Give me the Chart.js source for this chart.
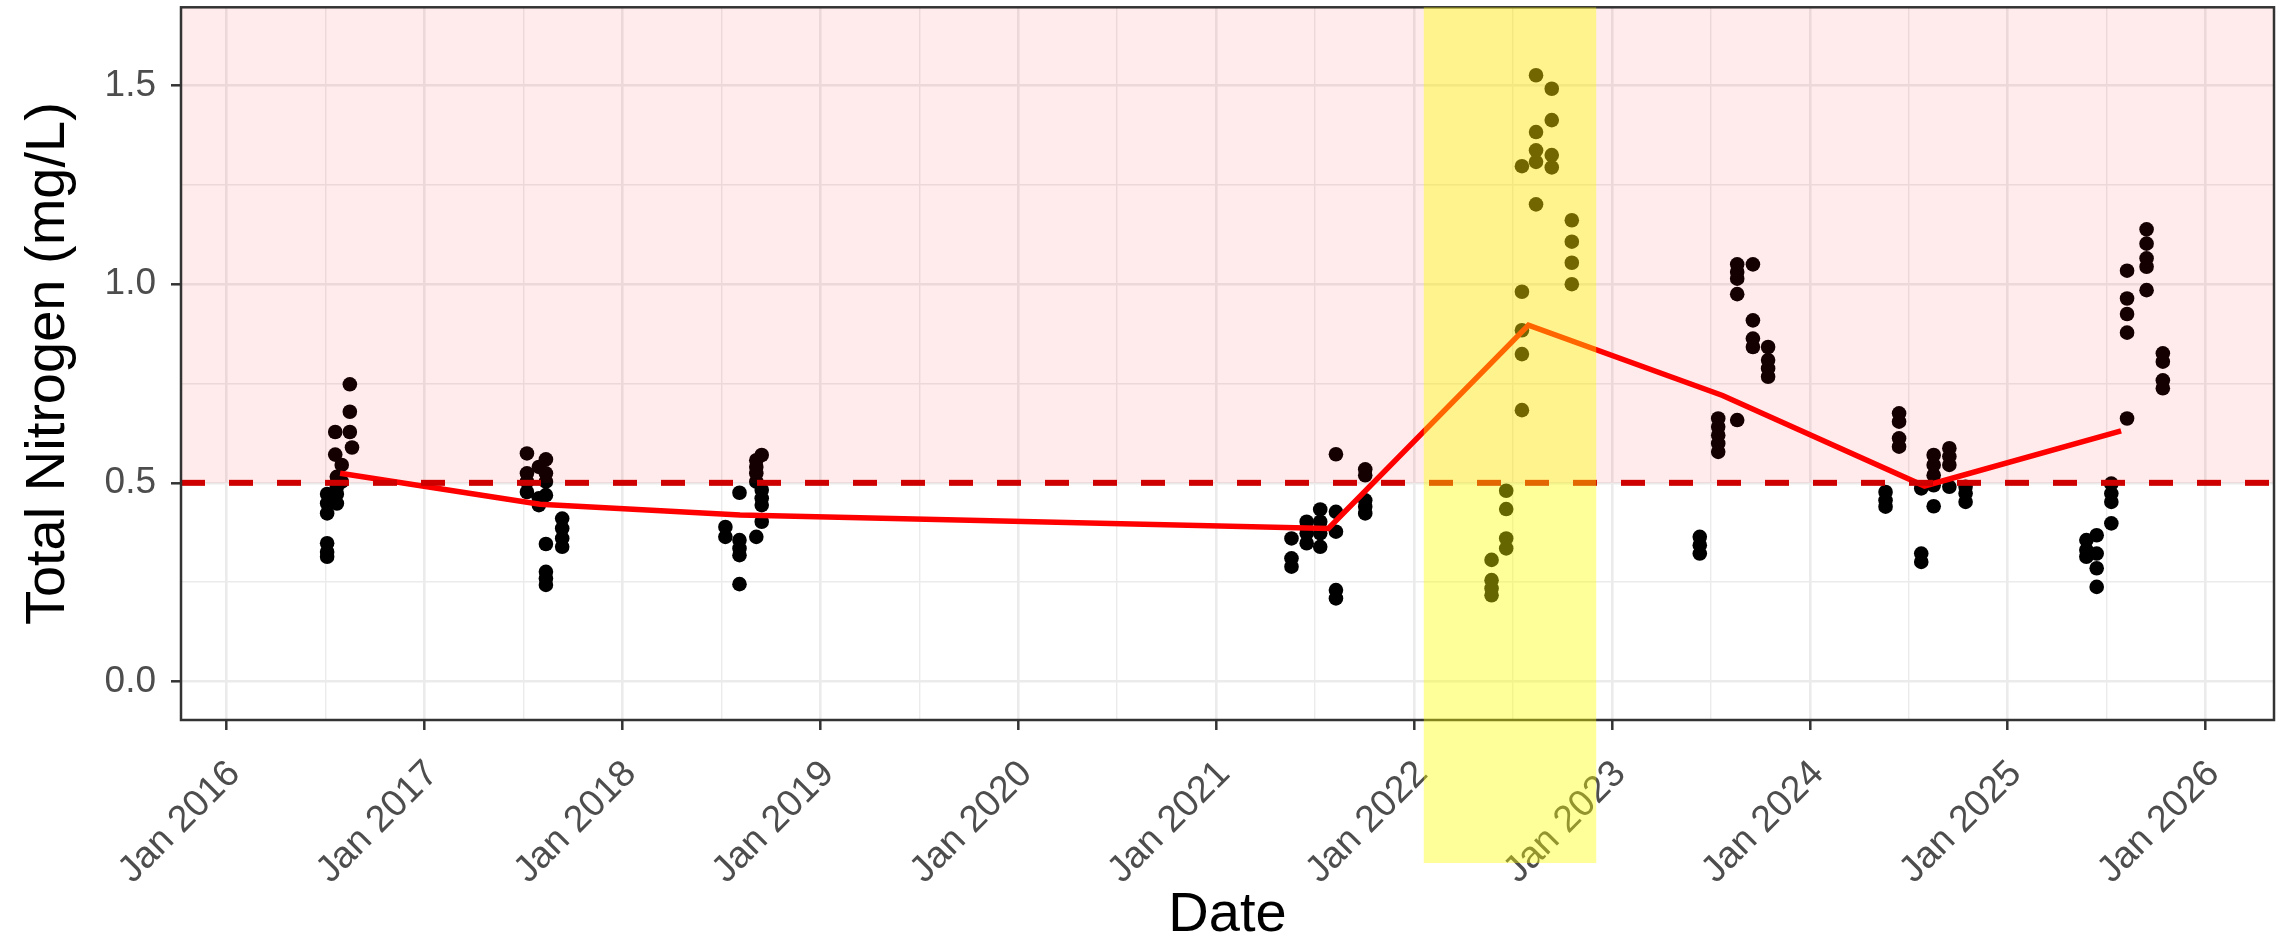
<!DOCTYPE html>
<html>
<head>
<meta charset="utf-8">
<script src="https://cdn.jsdelivr.net/npm/chart.js@4.4.1/dist/chart.umd.min.js"></script>
<style>
  html, body { margin: 0; padding: 0; background: #ffffff; }
  #wrap { width: 2285px; height: 941px; position: relative; }
</style>
</head>
<body>
<div id="wrap"><canvas id="c" width="2285" height="941"></canvas></div>
<script>
// ---------------- data ----------------
const sampleDays = [
  '2016-07-05','2016-07-20','2016-07-23','2016-08-01','2016-08-16','2016-08-20',
  '2017-07-09','2017-07-31','2017-08-13','2017-09-12',
  '2018-07-10','2018-08-05','2018-09-05','2018-09-15',
  '2021-05-20','2021-06-17','2021-07-12','2021-08-10','2021-10-03',
  '2022-05-24','2022-06-20','2022-07-19','2022-08-14','2022-09-12','2022-10-19',
  '2023-06-12','2023-07-16','2023-08-20','2023-09-18','2023-10-16',
  '2024-05-20','2024-06-14','2024-07-25','2024-08-17','2024-09-15','2024-10-15',
  '2025-05-26','2025-06-14','2025-07-11','2025-08-09','2025-09-14','2025-10-14'
];
const tnBySampleDay = [
  [0.472, 0.448, 0.423, 0.348, 0.326, 0.314],
  [0.628, 0.571],
  [0.515, 0.490, 0.472, 0.448],
  [0.545, 0.503],
  [0.748, 0.679, 0.628],
  [0.589],
  [0.574, 0.524, 0.503, 0.477],
  [0.540, 0.461, 0.444],
  [0.559, 0.524, 0.503, 0.469, 0.346, 0.276, 0.259, 0.243],
  [0.410, 0.385, 0.360, 0.339],
  [0.389, 0.364],
  [0.475, 0.356, 0.335, 0.318, 0.245],
  [0.557, 0.540, 0.524, 0.503, 0.364],
  [0.570, 0.482, 0.461, 0.444, 0.402],
  [0.360, 0.310, 0.289],
  [0.402, 0.373, 0.348],
  [0.433, 0.402, 0.373, 0.339],
  [0.572, 0.427, 0.377, 0.230, 0.209],
  [0.534, 0.519, 0.456, 0.440, 0.423],
  [0.306, 0.255, 0.234, 0.217],
  [0.480, 0.434, 0.360, 0.335],
  [1.297, 0.981, 0.884, 0.824, 0.683],
  [1.526, 1.383, 1.337, 1.308, 1.201],
  [1.492, 1.413, 1.325, 1.294],
  [1.161, 1.107, 1.054, 1.000],
  [0.364, 0.343, 0.322],
  [0.662, 0.641, 0.620, 0.599, 0.578],
  [1.050, 1.031, 1.014, 0.975, 0.658],
  [1.050, 0.909, 0.863, 0.842],
  [0.842, 0.809, 0.788, 0.767],
  [0.477, 0.456, 0.440],
  [0.675, 0.654, 0.612, 0.591],
  [0.486, 0.322, 0.301],
  [0.570, 0.545, 0.519, 0.494, 0.441],
  [0.587, 0.566, 0.545, 0.490],
  [0.490, 0.473, 0.452],
  [0.356, 0.331, 0.314],
  [0.368, 0.322, 0.285, 0.238],
  [0.498, 0.473, 0.452, 0.398],
  [1.034, 0.964, 0.925, 0.878, 0.662],
  [1.138, 1.102, 1.065, 1.044, 0.985],
  [0.826, 0.805, 0.758, 0.738]
];
const annualDates = ['2016-07-29','2017-08-02','2018-08-06','2021-07-27','2022-07-31','2023-07-24','2024-07-31','2025-07-29'];
const annualTN    = [0.524, 0.446, 0.419, 0.385, 0.897, 0.720, 0.492, 0.631];
const threshold = 0.5;
const highlightPeriod = ['2022-01-19', '2022-12-03'];
const xRange = ['2015-10-09', '2026-05-07'];
const yRange = [-0.097, 1.697];
const xTickYears = [2016, 2017, 2018, 2019, 2020, 2021, 2022, 2023, 2024, 2025, 2026];
const yTickValues = [0, 0.25, 0.5, 0.75, 1.0, 1.25, 1.5];
const xTitle = 'Date';
const yTitle = 'Total Nitrogen (mg/L)';

// ---------------- helpers ----------------
function toYear(s) {
  const [y, m, d] = s.split('-').map(Number);
  const start = Date.UTC(y, 0, 1), end = Date.UTC(y + 1, 0, 1);
  return y + (Date.UTC(y, m - 1, d) - start) / (end - start);
}
const xMin = toYear(xRange[0]), xMax = toYear(xRange[1]);
const xTickValues = [];
xTickYears.forEach(yr => {
  if (yr >= xMin && yr <= xMax) xTickValues.push(yr);
  if (yr + 0.5 >= xMin && yr + 0.5 <= xMax) xTickValues.push(yr + 0.5);
});

const pointData = [];
sampleDays.forEach((d, i) => tnBySampleDay[i].forEach(v => pointData.push({ x: toYear(d), y: v })));
const meanData = annualDates.map((d, i) => ({ x: toYear(d), y: annualTN[i] }));

const isMajorX = v => Math.abs(v - Math.round(v)) < 1e-9;
const isMajorY = v => Math.abs(v * 2 - Math.round(v * 2)) < 1e-9;
const FONT = "'Liberation Sans', Arial, 'DejaVu Sans', sans-serif";

const overlayPlugin = {
  id: 'overlays',
  afterDatasetsDraw(chart) {
    const { ctx, chartArea: a, scales: { x, y } } = chart;
    ctx.save();
    // exceedance region (above threshold)
    const yT = y.getPixelForValue(threshold);
    ctx.fillStyle = 'rgba(255,0,0,0.08)';
    ctx.fillRect(a.left, a.top, a.right - a.left, yT - a.top);
    // panel border
    ctx.strokeStyle = '#333333';
    ctx.lineWidth = 2.5;
    ctx.strokeRect(a.left, a.top, a.right - a.left, a.bottom - a.top);
    // highlighted period
    const x0 = x.getPixelForValue(toYear(highlightPeriod[0]));
    const x1 = x.getPixelForValue(toYear(highlightPeriod[1]));
    ctx.fillStyle = 'rgba(255,255,0,0.4)';
    ctx.fillRect(x0, a.top, x1 - x0, (a.bottom + 143) - a.top);
    ctx.restore();
  }
};

new Chart(document.getElementById('c'), {
  type: 'scatter',
  data: {
    datasets: [
      {
        data: [{ x: xMin, y: threshold }, { x: xMax, y: threshold }],
        showLine: true, borderColor: '#CD0000', borderWidth: 6, borderDash: [24, 24],
        pointRadius: 0, fill: false, order: 0
      },
      {
        data: meanData,
        showLine: true, borderColor: '#FF0000', borderWidth: 5.5,
        pointRadius: 0, fill: false, tension: 0, order: 1
      },
      {
        data: pointData,
        backgroundColor: '#000000', borderWidth: 0, pointRadius: 7.3, order: 2
      }
    ]
  },
  options: {
    responsive: false,
    animation: false,
    devicePixelRatio: 1,
    layout: { padding: { left: 0, top: 7, right: 11, bottom: 0 } },
    plugins: { legend: { display: false }, tooltip: { enabled: false } },
    scales: {
      x: {
        type: 'linear',
        min: xMin, max: xMax,
        afterBuildTicks: s => { s.ticks = xTickValues.map(v => ({ value: v })); },
        afterFit: s => { s.height = 221; s.paddingLeft = 0; s.paddingRight = 0; },
        border: { display: false },
        grid: {
          color: '#EBEBEB',
          lineWidth: c => (c.tick && isMajorX(c.tick.value)) ? 2.6 : 1.4,
          tickLength: 10,
          tickWidth: 2.5,
          tickColor: c => (c.tick && isMajorX(c.tick.value)) ? '#333333' : 'rgba(0,0,0,0)'
        },
        ticks: {
          autoSkip: false, minRotation: 45, maxRotation: 45, padding: 22, labelOffset: 8,
          color: '#4D4D4D', font: { family: FONT, size: 37.5 },
          callback: v => isMajorX(v) ? 'Jan ' + Math.round(v) : ''
        },
        title: {
          display: true, text: xTitle, color: '#000000',
          font: { family: FONT, size: 56, lineHeight: 0.9 },
          padding: { top: 0, bottom: 0 }
        }
      },
      y: {
        type: 'linear',
        min: yRange[0], max: yRange[1],
        afterBuildTicks: s => { s.ticks = yTickValues.map(v => ({ value: v })); },
        afterFit: s => { s.width = 181; s.paddingTop = 0; s.paddingBottom = 0; },
        border: { display: false },
        grid: {
          color: '#EBEBEB',
          lineWidth: c => (c.tick && isMajorY(c.tick.value)) ? 2.6 : 1.4,
          tickLength: 10,
          tickWidth: 2.5,
          tickColor: c => (c.tick && isMajorY(c.tick.value)) ? '#333333' : 'rgba(0,0,0,0)'
        },
        ticks: {
          padding: 15,
          color: '#4D4D4D', font: { family: FONT, size: 37 },
          callback: v => isMajorY(v) ? v.toFixed(1) : ''
        },
        title: {
          display: true, text: yTitle, color: '#000000',
          font: { family: FONT, size: 56, lineHeight: 1.2 },
          padding: { top: 14.5, bottom: 0 }
        }
      }
    }
  },
  plugins: [overlayPlugin]
});
</script>
</body>
</html>
